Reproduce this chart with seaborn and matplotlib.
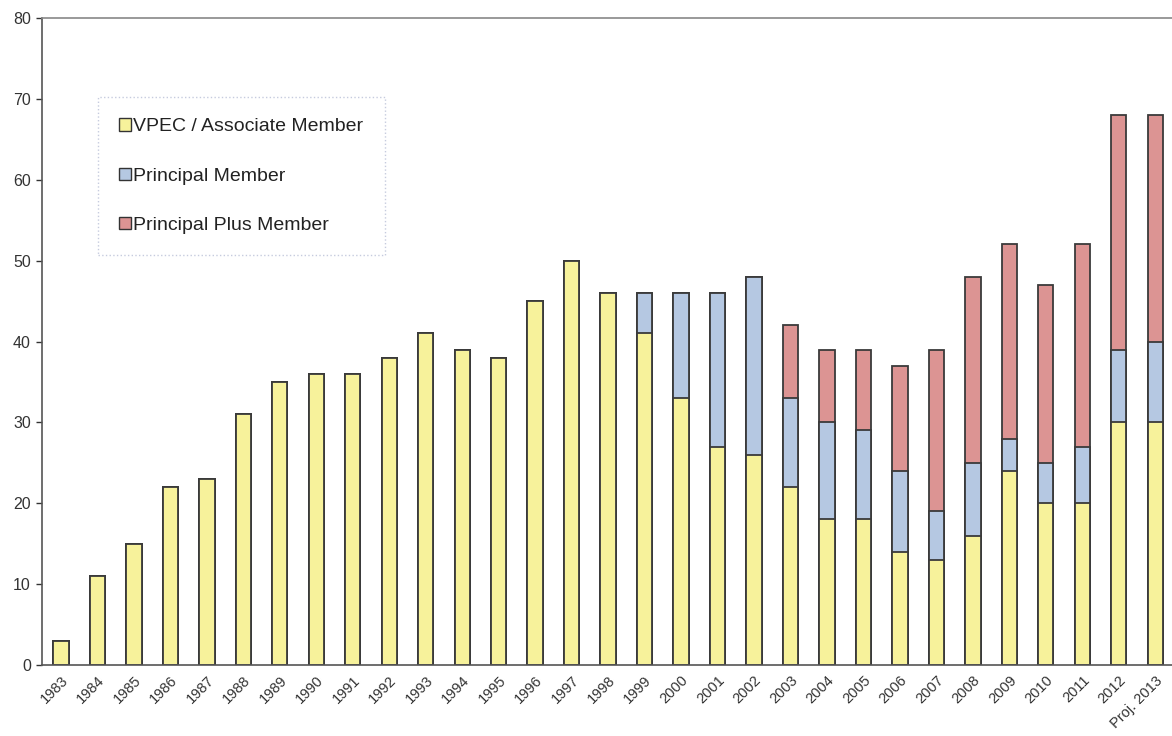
import numpy as np
import pandas as pd
import matplotlib
matplotlib.use("Agg")
import matplotlib.pyplot as plt
import seaborn as sns
from matplotlib.patches import Patch

years = ["1983", "1984", "1985", "1986", "1987", "1988", "1989", "1990", "1991", "1992",
         "1993", "1994", "1995", "1996", "1997", "1998", "1999", "2000", "2001", "2002",
         "2003", "2004", "2005", "2006", "2007", "2008", "2009", "2010", "2011", "2012",
         "Proj. 2013"]
vpec = [3, 11, 15, 22, 23, 31, 35, 36, 36, 38,
        41, 39, 38, 45, 50, 46, 41, 33, 27, 26,
        22, 18, 18, 14, 13, 16, 24, 20, 20, 30, 30]
principal = [0, 0, 0, 0, 0, 0, 0, 0, 0, 0,
             0, 0, 0, 0, 0, 0, 5, 13, 19, 22,
             11, 12, 11, 10, 6, 9, 4, 5, 7, 9, 10]
principal_plus = [0, 0, 0, 0, 0, 0, 0, 0, 0, 0,
                  0, 0, 0, 0, 0, 0, 0, 0, 0, 0,
                  9, 9, 10, 13, 20, 23, 24, 22, 25, 29, 28]

series = ["VPEC / Associate Member", "Principal Member", "Principal Plus Member"]
colors = ["#F7F29B", "#B5C8E2", "#DC9493"]

df = pd.DataFrame({"year": years, "vpec": vpec,
                   "principal": principal, "plus": principal_plus})
df["c1"] = df["vpec"]
df["c2"] = df["c1"] + df["principal"]
df["c3"] = df["c2"] + df["plus"]

sns.set_style("white")
plt.rcParams["font.family"] = ["Liberation Sans", "DejaVu Sans"]

fig = plt.figure(figsize=(11.72, 7.36), dpi=100)
ax = fig.add_axes([42 / 1172, 71 / 736, 1 - 42 / 1172, (665 - 18) / 736])

# stacked look: draw cumulative totals from the top layer down
for col, c in zip(["c3", "c2", "c1"], colors[::-1]):
    sns.barplot(data=df, x="year", y=col, color=c, width=0.42,
                edgecolor="#3a3a3a", linewidth=1.3, saturation=1, ax=ax)

ax.set_ylim(0, 80)
ax.set_xlim(-0.52, 30.46)
ax.set_yticks(range(0, 81, 10))
ax.set_xlabel("")
ax.set_ylabel("")
ax.tick_params(axis="y", labelsize=11.5, colors="#333333", length=4, width=1,
               left=True, direction="out", pad=4)
ax.tick_params(axis="x", length=0, pad=6, labelsize=10.5, colors="#333333")
for lab in ax.get_xticklabels():
    lab.set_rotation(45)
    lab.set_ha("right")
    lab.set_rotation_mode("anchor")

for s in ["left", "bottom", "top"]:
    ax.spines[s].set_visible(True)
    ax.spines[s].set_color("#555555")
    ax.spines[s].set_linewidth(1.2)
ax.spines["top"].set_color("#888888")
ax.spines["right"].set_visible(False)

handles = [Patch(facecolor=c, edgecolor="#333333", linewidth=1.0) for c in colors]
leg = fig.legend(handles, series, loc="upper left",
                 bbox_to_anchor=(98 / 1172, 1 - 97 / 736),
                 fontsize=14, frameon=True, fancybox=False,
                 handlelength=0.6, handleheight=0.6, handletextpad=0.12,
                 labelspacing=1.65, borderpad=1.1, borderaxespad=0)
for t in leg.get_texts():
    t.set_color("#222222")
fr = leg.get_frame()
fr.set_edgecolor("#b8bfd6")
fr.set_linestyle(":")
fr.set_linewidth(1.0)

fig.savefig("out.png", dpi=100)
